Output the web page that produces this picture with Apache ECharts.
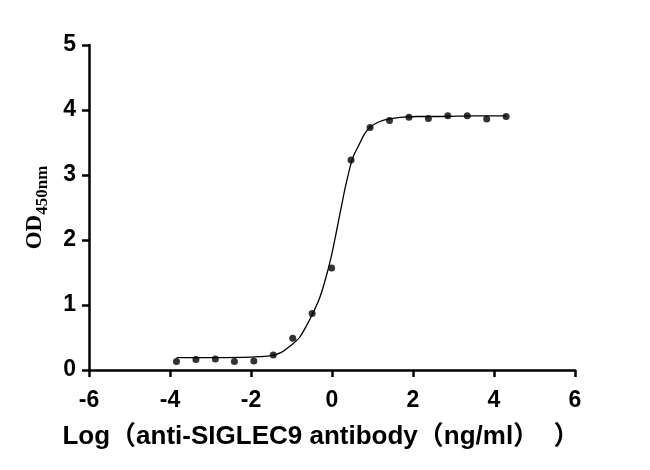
<!DOCTYPE html>
<html>
<head>
<meta charset="utf-8">
<script src="https://cdn.jsdelivr.net/npm/echarts@6/dist/echarts.min.js"></script>
<style>
    html, body { margin: 0; padding: 0; background: #fff; }
    #chart { width: 650px; height: 470px; }
</style>
</head>
<body>
<div id="chart"></div>
<script>
// measured points: log10 concentration vs OD450
const logDose = [-3.84, -3.36, -2.88, -2.41, -1.93, -1.45, -0.97, -0.49, -0.01, 0.47, 0.94, 1.42, 1.90, 2.38, 2.86, 3.34, 3.82, 4.30];
const odValues = [0.13, 0.16, 0.17, 0.13, 0.14, 0.23, 0.49, 0.87, 1.57, 3.23, 3.73, 3.84, 3.89, 3.87, 3.91, 3.91, 3.86, 3.90];

// fitted curve
const curveX = [-3.84, -3.0, -2.2, -1.8, -1.5, -1.25, -1.05, -0.9, -0.8, -0.64, -0.475, -0.31, -0.16, -0.02, 0.10, 0.23, 0.35, 0.51, 0.68, 0.80, 0.93, 1.1, 1.26, 1.5, 1.75, 2.1, 2.66, 3.5, 4.30];
const curveY = [0.19, 0.19, 0.195, 0.205, 0.22, 0.27, 0.36, 0.44, 0.50, 0.67, 0.87, 1.10, 1.40, 1.74, 2.10, 2.51, 2.87, 3.26, 3.48, 3.63, 3.73, 3.80, 3.84, 3.87, 3.89, 3.90, 3.90, 3.91, 3.91];

const xTicks = [-6, -4, -2, 0, 2, 4, 6];
const yTicks = [0, 1, 2, 3, 4, 5];

const xName = 'Log（anti-SIGLEC9 antibody（ng/ml）  ）';

let myChart = echarts.init(document.getElementById('chart'), null, {renderer: 'canvas'});

const axisFont = '"Liberation Sans", Arial, "Noto Sans CJK SC", sans-serif';
const serifFont = '"Liberation Serif", "Times New Roman", serif';

myChart.setOption({
    animation: false,
    grid: {
        left: 89,
        right: 75,
        top: 45,
        bottom: 100,
        containLabel: false
    },
    xAxis: {
        type: 'value',
        min: xTicks[0],
        max: xTicks[xTicks.length - 1],
        interval: 2,
        name: xName,
        nameLocation: 'middle',
        nameGap: 54,
        nameTextStyle: {
            fontFamily: axisFont,
            fontWeight: 'bold',
            fontSize: 26,
            color: '#000',
            padding: [0, 22, 0, 0]
        },
        splitLine: {show: false},
        axisLine: {onZero: false, lineStyle: {color: '#000', width: 2.5}},
        axisTick: {inside: false, length: 7, lineStyle: {color: '#000', width: 2.5}},
        axisLabel: {
            margin: 19,
            fontFamily: axisFont,
            fontWeight: 'bold',
            fontSize: 23,
            color: '#000'
        }
    },
    yAxis: {
        type: 'value',
        min: yTicks[0],
        max: yTicks[yTicks.length - 1],
        interval: 1,
        name: '{a|OD}{b|450nm}',
        nameLocation: 'middle',
        nameRotate: 90,
        nameGap: 42,
        nameTextStyle: {
            color: '#000',
            rich: {
                a: {
                    fontFamily: serifFont,
                    fontWeight: 'bold',
                    fontSize: 23,
                    lineHeight: 26,
                    verticalAlign: 'bottom',
                    color: '#000'
                },
                b: {
                    fontFamily: serifFont,
                    fontWeight: 'bold',
                    fontSize: 17,
                    lineHeight: 26,
                    verticalAlign: 'bottom',
                    padding: [0, 0, -4, 0],
                    color: '#000'
                }
            }
        },
        splitLine: {show: false},
        axisLine: {show: true, onZero: false, lineStyle: {color: '#000', width: 2.5}},
        axisTick: {show: true, inside: false, length: 7, lineStyle: {color: '#000', width: 2.5}},
        axisLabel: {
            margin: 13,
            fontFamily: axisFont,
            fontWeight: 'bold',
            fontSize: 23,
            color: '#000'
        }
    },
    series: [
        {
            name: 'fit',
            type: 'line',
            data: curveX.map(function (x, i) { return [x, curveY[i]]; }),
            smooth: 0.3,
            showSymbol: false,
            symbol: 'none',
            lineStyle: {color: '#000', width: 1.3},
            z: 2
        },
        {
            name: 'OD',
            type: 'scatter',
            data: logDose.map(function (x, i) { return [x, odValues[i]]; }),
            symbol: 'circle',
            symbolSize: 7,
            itemStyle: {color: '#000'},
            z: 3
        }
    ]
});
</script>
</body>
</html>
